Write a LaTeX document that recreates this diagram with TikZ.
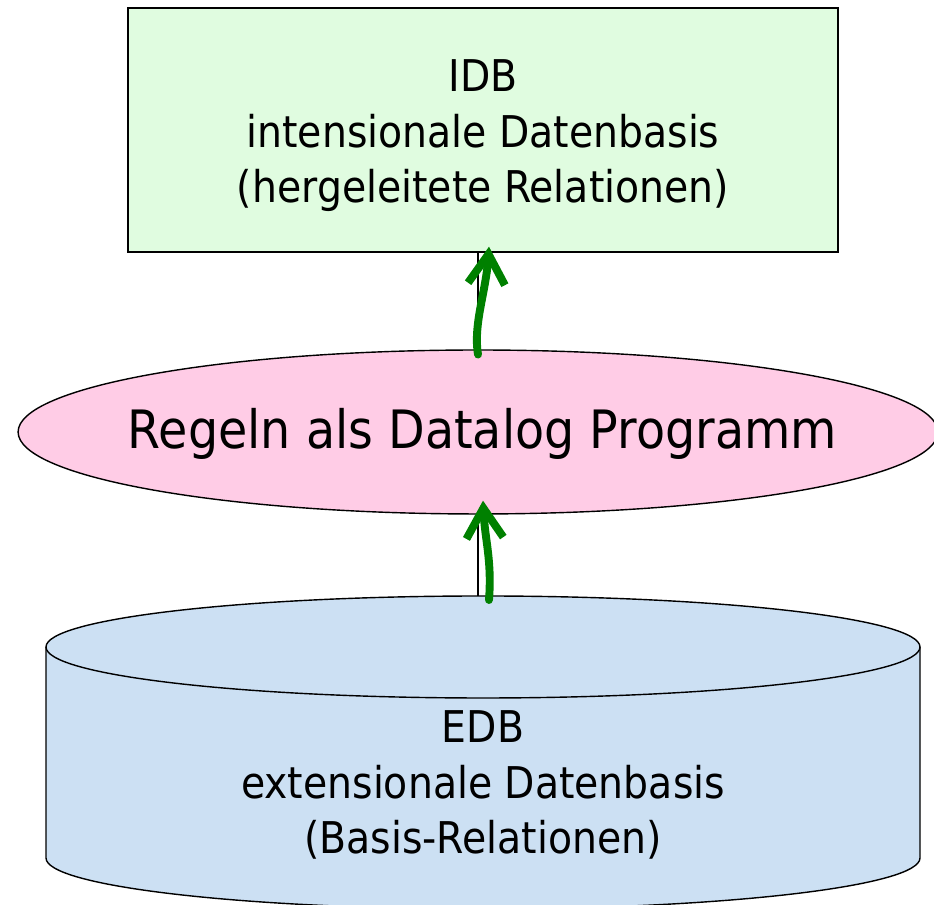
\documentclass[tikz,border=0pt]{standalone}
\usepackage{fontspec}
\setmainfont[FakeStretch=0.9]{DejaVu Sans}
\usetikzlibrary{shapes.geometric,arrows.meta}
\definecolor{idbgreen}{RGB}{224,252,224}
\definecolor{regelnpink}{RGB}{255,204,230}
\definecolor{edbblue}{RGB}{204,224,243}
\definecolor{pengreen}{RGB}{0,128,0}
\tikzset{
    idbbox/.style={draw, line width=0.8pt, fill=idbgreen, minimum width=14.2cm, minimum height=4.88cm},
    boxtext/.style={align=center, font=\fontsize{24.9}{31.6}\selectfont},
    regelnshape/.style={ellipse, draw, line width=0.8pt, fill=regelnpink, minimum width=18.4cm, minimum height=3.28cm, inner sep=0pt},
    greenpen/.style={pengreen, line width=4.5pt, line cap=round, line join=round, -{Straight Barb[length=17pt,width=21pt]}}
}
\begin{document}
\begin{tikzpicture}[x=0.02cm, y=0.02cm]
        \clip (0, 0) rectangle (934, 905);
        \node[idbbox, label={[boxtext, yshift=-0.12cm]center:IDB\\intensionale Datenbasis\\(hergeleitete Relationen)}] (idb) at (483, 775) {};
        \node[regelnshape, label={[font=\fontsize{30.1}{36}\selectfont, xshift=0.09cm, yshift=-0.03cm]center:Regeln als Datalog Programm}] (regeln) at (478, 473) {};

        % cylinder
        \fill[edbblue] (46, 258) -- (46, 47) arc[start angle=180, end angle=360, x radius=437, y radius=51] -- (920, 258) arc[start angle=0, end angle=180, x radius=437, y radius=51] -- cycle;
        \draw[line width=0.8pt] (46, 258) -- (46, 47) arc[start angle=180, end angle=360, x radius=437, y radius=51] -- (920, 258);
        \draw[line width=0.8pt] (483, 258) ellipse[x radius=437, y radius=51];
        \coordinate (edbtop) at (483, 309);
        \node[boxtext] (edb) at (483, 120) {EDB\\extensionale Datenbasis\\(Basis-Relationen)};

        \draw[line width=0.6pt] (regeln.north) -- (regeln.north |- idb.south);
        \draw[line width=0.6pt] (regeln.south) -- (regeln.south |- edbtop);
        \draw[greenpen] ([yshift=-3pt]regeln.north) .. controls +(-5, 30) and +(-3, -45) .. ([shift={(6, 6)}]idb.south);
        \draw[greenpen] ([shift={(6, -4)}]edbtop) .. controls +(3, 40) and +(2, -40) .. ([shift={(5, 14)}]regeln.south);
\end{tikzpicture}
\end{document}
